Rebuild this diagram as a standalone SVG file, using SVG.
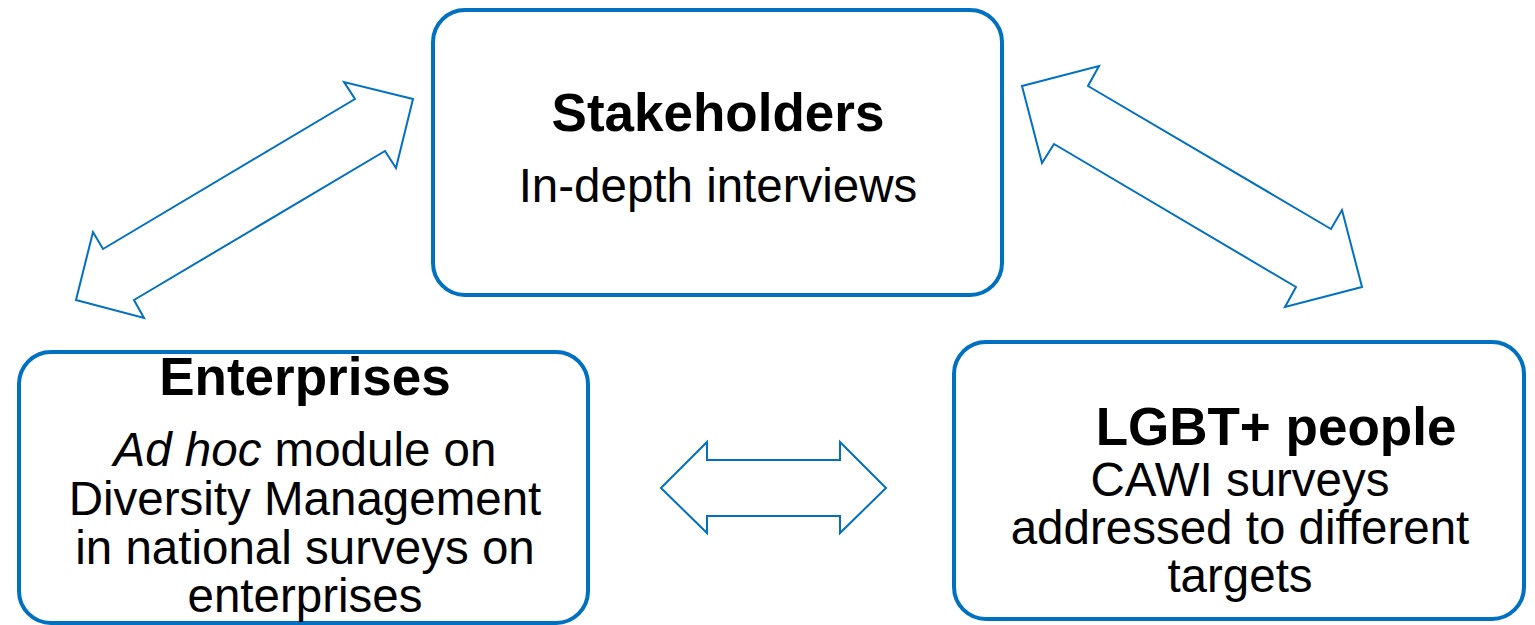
<svg xmlns="http://www.w3.org/2000/svg" width="1535" height="625" viewBox="0 0 1535 625">
<style>
.box{fill:#fff;stroke:#0070C0;stroke-width:4}
.arr{fill:#fff;stroke:#0070C0;stroke-width:2;stroke-linejoin:miter}
.t{font-family:"Liberation Sans",Arial,sans-serif;font-weight:bold;font-size:53px;fill:#000;text-anchor:middle}
.s{font-family:"Liberation Sans",Arial,sans-serif;font-size:47.5px;fill:#000;text-anchor:middle}
</style>
<rect width="1535" height="625" fill="#fff"/>
<g id="connectors">
<polygon class="arr" points="413,99 344,82 355,99 103,249 93,232 76,300 144,318 134,300 385,151 396,168"/>
<polygon class="arr" points="1022,86 1099,66 1088,86 1331,229 1342,210 1362,287 1285,307 1296,287 1054,144 1042,163"/>
<polygon class="arr" points="661,488 707,442 707,460 840,460 840,442 886,488 840,533 840,516 707,516 707,533"/>
</g>
<g id="stakeholders">
<rect class="box" x="433" y="10" width="569" height="285" rx="32" ry="32"/>
<text class="t" x="718" y="131">Stakeholders</text>
<text class="s" x="718" y="202">In-depth interviews</text>
</g>
<g id="enterprises">
<rect class="box" x="19" y="352" width="569" height="271" rx="32" ry="32"/>
<text class="t" x="305" y="395">Enterprises</text>
<text class="s" x="305" y="466"><tspan font-style="italic">Ad hoc</tspan> module on</text>
<text class="s" x="305" y="515">Diversity Management</text>
<text class="s" x="305" y="564">in national surveys on</text>
<text class="s" x="305" y="612">enterprises</text>
</g>
<g id="lgbt">
<rect class="box" x="954" y="342" width="570" height="277" rx="32" ry="32"/>
<text class="t" x="1276" y="445">LGBT+ people</text>
<text class="s" x="1240" y="496">CAWI surveys</text>
<text class="s" x="1240" y="544">addressed to different</text>
<text class="s" x="1240" y="592">targets</text>
</g>
</svg>
